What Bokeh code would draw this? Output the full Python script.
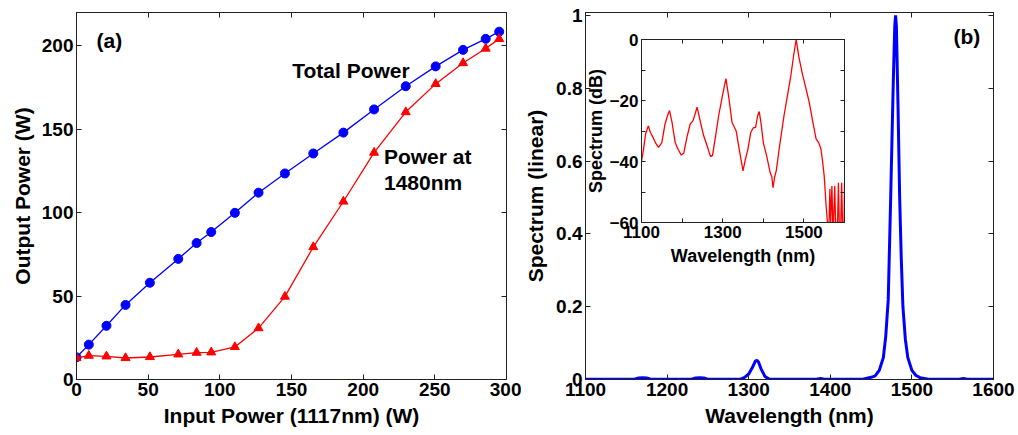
from bokeh.plotting import figure
from bokeh.models import LinearAxis, FixedTicker, Range1d, Label, GridBox
from bokeh.embed import file_html
from bokeh.resources import INLINE

# ---------------- data: panel (a) ----------------
input_power = [0, 8.6, 20.9, 34.2, 51.2, 71.0, 83.8, 94.0, 110.5, 127.0, 145.4,
               165.2, 186.2, 207.6, 229.7, 250.6, 269.7, 285.5, 294.9]
total_power = [13.3, 20.9, 32.2, 44.7, 58.0, 72.3, 81.8, 88.4, 99.9, 112.0, 123.5,
               135.5, 148.0, 161.9, 175.8, 187.7, 197.6, 204.2, 208.5]
power_1480 = [12.9, 14.3, 13.9, 12.9, 13.5, 15.1, 16.1, 16.3, 19.5, 30.8, 49.7,
              79.4, 106.7, 136.0, 160.3, 177.2, 189.7, 198.4, 204.2]
a_xticks = [0, 50, 100, 150, 200, 250, 300]
a_yticks = [0, 50, 100, 150, 200]

# ---------------- data: panel (b), linear spectrum ----------------
wl_lin = [1100, 1160, 1165, 1170, 1175, 1180, 1230, 1235, 1240, 1245, 1250, 1290,
          1295, 1300, 1305, 1308, 1310, 1312, 1315, 1320, 1325, 1383, 1388, 1393,
          1440, 1450, 1455, 1460, 1465, 1468, 1471, 1474, 1477, 1479, 1480, 1481,
          1483, 1485, 1487, 1489, 1492, 1495, 1500, 1505, 1510, 1520, 1558, 1563,
          1568, 1600]
spec_lin = [0.001, 0.001, 0.004, 0.005, 0.004, 0.001, 0.001, 0.004, 0.005, 0.004,
            0.001, 0.001, 0.006, 0.015, 0.035, 0.050, 0.053, 0.048, 0.030, 0.008,
            0.001, 0.001, 0.003, 0.001, 0.001, 0.006, 0.010, 0.025, 0.060, 0.120,
            0.220, 0.500, 0.800, 0.970, 1.000, 0.970, 0.750, 0.500, 0.330, 0.200,
            0.110, 0.060, 0.025, 0.011, 0.005, 0.001, 0.001, 0.003, 0.001, 0.001]
b_xticks = [1100, 1200, 1300, 1400, 1500, 1600]
b_yticks = [0, 0.2, 0.4, 0.6, 0.8, 1]

# ---------------- data: inset, dB spectrum ----------------
wl_db = [1100, 1105, 1110, 1117, 1122, 1128, 1135, 1142, 1150, 1158, 1164, 1169,
         1175, 1183, 1190, 1198, 1204, 1212, 1220, 1227, 1237, 1245, 1253, 1262,
         1270, 1275, 1282, 1290, 1300, 1308, 1315, 1323, 1333, 1342, 1350, 1356,
         1362, 1369, 1375, 1381, 1386, 1390, 1395, 1400, 1408, 1417, 1421, 1424,
         1428, 1432, 1440, 1451, 1460, 1468, 1475, 1481, 1488, 1497, 1505, 1513,
         1522, 1530, 1537, 1542, 1546, 1550, 1555, 1558, 1562, 1564, 1566, 1569,
         1571, 1573, 1576, 1578, 1583, 1585, 1587, 1591, 1593, 1595, 1599, 1600]
spec_db = [-40, -36, -31, -28.3, -30.5, -32, -34, -35.4, -33.8, -27.7, -25, -23.3,
           -27, -33.8, -36, -37.9, -37.3, -32, -27.7, -26.6, -22.2, -27, -31.5, -35,
           -38.4, -38, -32, -25, -18, -12.8, -19, -27.2, -29.9, -37, -43.1, -39.2,
           -36, -30.5, -29, -28.8, -25, -23.6, -28, -33.8, -38, -43.7, -45, -48.6,
           -45, -43, -35, -25, -18, -11.7, -5, 0, -6, -11.7, -16, -20.5,
           -27, -32.6, -34, -35.9, -40, -44.7, -55, -60, -60, -49, -60, -48,
           -60, -60, -48, -60, -60, -47, -60, -60, -47, -60, -60, -47]
in_xticks = [1100, 1300, 1500]
in_xminor = [1200, 1400, 1600]
in_yticks = [-60, -40, -20, 0]
in_yminor = [-50, -30, -10]

FONT = "Liberation Sans"
EDGE = "#222222"


def style_axes(p, xticks, yticks, tick_size, label_size, tick_len=5, xminor=(), yminor=()):
    for ax in p.xaxis + p.yaxis:
        ax.major_label_text_font = FONT
        ax.major_label_text_font_style = "bold"
        ax.major_label_text_font_size = tick_size
        ax.major_label_text_color = "black"
        ax.axis_label_text_font = FONT
        ax.axis_label_text_font_style = "bold"
        ax.axis_label_text_font_size = label_size
        ax.axis_label_text_color = "black"
        ax.major_tick_in = tick_len
        ax.major_tick_out = 0
        ax.minor_tick_in = tick_len
        ax.minor_tick_out = 0
        ax.minor_tick_line_color = EDGE
        ax.axis_line_color = EDGE
        ax.major_tick_line_color = EDGE
        ax.major_label_standoff = 3
    p.xaxis[0].ticker = FixedTicker(ticks=xticks, minor_ticks=list(xminor))
    p.yaxis[0].ticker = FixedTicker(ticks=yticks, minor_ticks=list(yminor))
    for loc, ticks in (("right", list(yticks) + list(yminor)),
                       ("above", list(xticks) + list(xminor))):
        ax = LinearAxis(ticker=FixedTicker(ticks=ticks), major_label_text_font_size="1px",
                        major_label_text_color=None, major_tick_in=tick_len,
                        major_tick_out=0, minor_tick_line_color=None,
                        major_label_standoff=0, axis_line_color=EDGE,
                        major_tick_line_color=EDGE)
        p.add_layout(ax, loc)
    p.xgrid.visible = False
    p.ygrid.visible = False
    p.outline_line_color = EDGE


# ---------------- panel (a) ----------------
p1 = figure(width=521, height=435, output_backend="svg", toolbar_location=None,
            x_range=Range1d(0, 300), y_range=Range1d(0, 220),
            min_border_left=76, min_border_right=15, min_border_top=12, min_border_bottom=55)
p1.line(input_power, total_power, line_color="#0000ff", line_width=1.3)
p1.scatter(input_power, total_power, marker="circle", size=9, fill_color="#0000ff",
           line_color="#0000ff")
p1.line(input_power, power_1480, line_color="#ff0000", line_width=1.3)
p1.scatter(input_power, power_1480, marker="triangle", size=9, fill_color="#ff0000",
           line_color="#ff0000")
p1.xaxis.axis_label = "Input Power (1117nm) (W)"
p1.yaxis.axis_label = "Output Power (W)"
style_axes(p1, a_xticks, a_yticks, "19px", "21px")
p1.xaxis[0].axis_label_standoff = 4
p1.yaxis[0].axis_label_standoff = 5
for txt, x, y in [("(a)", 14, 203), ("Total Power", 150.5, 185.2),
                  ("Power at", 214.5, 133.4), ("1480nm", 214.5, 117.9)]:
    p1.add_layout(Label(x=x, y=y, text=txt, text_font=FONT, text_font_style="bold",
                        text_font_size="21px", text_baseline="middle", text_align="left",
                        text_color="black"))

# ---------------- panel (b) ----------------
p2 = figure(width=497, height=435, output_backend="svg", toolbar_location=None,
            x_range=Range1d(1100, 1600), y_range=Range1d(0, 1.008),
            min_border_left=61, min_border_right=25, min_border_top=9, min_border_bottom=56)
p2.line(wl_lin, spec_lin, line_color="#0000ff", line_width=3)
p2.xaxis.axis_label = "Wavelength (nm)"
p2.yaxis.axis_label = "Spectrum (linear)"
style_axes(p2, b_xticks, b_yticks, "19px", "21px")
p2.xaxis[0].axis_label_standoff = 4
p2.yaxis[0].axis_label_standoff = 6
p2.add_layout(Label(x=1551, y=0.942, text="(b)", text_font=FONT, text_font_style="bold",
                    text_font_size="21px", text_baseline="middle", text_align="left",
                    text_color="black"))

# ---------------- inset ----------------
pin = figure(width=268, height=238, output_backend="svg", toolbar_location=None,
             x_range=Range1d(1100, 1600), y_range=Range1d(-60, 0),
             min_border_left=49, min_border_right=6, min_border_top=9, min_border_bottom=40,
             border_fill_alpha=0, background_fill_color="white")
pin.line(wl_db, spec_db, line_color="#ff0000", line_width=1.3)
pin.xaxis.axis_label = "Wavelength (nm)"
pin.yaxis.axis_label = "Spectrum (dB)"
style_axes(pin, in_xticks, in_yticks, "17px", "18px", tick_len=4,
           xminor=in_xminor, yminor=in_yminor)
pin.xaxis[0].axis_label_standoff = 0
pin.yaxis[0].axis_label_standoff = 1

layout = GridBox(
    children=[(p1, 0, 0, 3, 1), (p2, 0, 1, 3, 3), (pin, 1, 2, 1, 1)],
    rows=["30px", "238px", "167px"],
    cols=["521px", "61px", "268px", "168px"],
    spacing=0,
)

open("out.html", "w").write(file_html(layout, INLINE))
